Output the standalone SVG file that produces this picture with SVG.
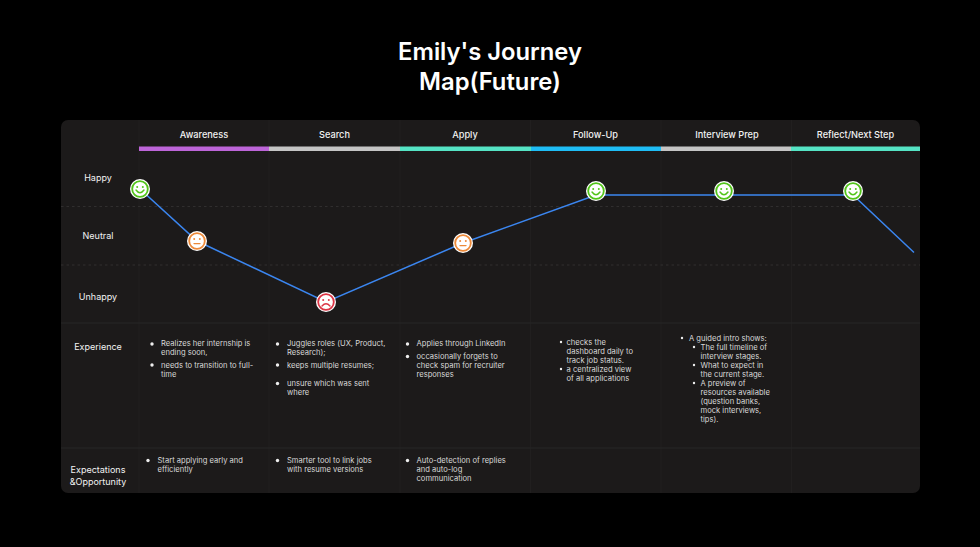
<svg xmlns="http://www.w3.org/2000/svg" width="980" height="547" viewBox="0 0 980 547">
<style>
text{font-family:Inter,"Liberation Sans",sans-serif;fill:#f2f2f2}
.title{font-size:23.8px;font-weight:600;fill:#fff;text-anchor:middle}
.head{font-size:9.2px;font-weight:500;text-anchor:middle}
.side{font-size:9px;text-anchor:middle}
.body{font-size:7.6px;fill:#d8d8d8}
.grid{stroke:#262626;stroke-width:1;fill:none}
.col{stroke:#211f1f;stroke-width:1;fill:none}
.dash{stroke:#302e2e;stroke-width:1;stroke-dasharray:2.5 3;fill:none}
.conn{stroke:#3b86f0;stroke-width:1.500;fill:none}
.disc{fill:#fff}
.ring{fill:none;stroke-width:1.800}
.mouth{fill:none;stroke-width:1.400;stroke-linecap:round}
.happy{stroke:#52c41a}.neutral{stroke:#ec8a3a}.sad{stroke:#dc3545}
.fh{fill:#52c41a}.fn{fill:#ec8a3a}.fs{fill:#dc3545}
.dot{fill:#eee}
</style>
<defs>
<g id="f-happy"><circle class="disc" r="10"/><circle class="ring happy" r="7.800"/><circle class="fh" cx="-2.8" cy="-2" r="1"/><circle class="fh" cx="2.8" cy="-2" r="1"/><path class="mouth happy" d="M-4 1Q0 6.500 4 1"/></g>
<g id="f-neutral"><circle class="disc" r="10"/><circle class="ring neutral" r="7.800"/><circle class="fn" cx="-2.8" cy="-2" r="1"/><circle class="fn" cx="2.8" cy="-2" r="1"/><path class="mouth neutral" d="M-3 2.600H3"/></g>
<g id="f-sad"><circle class="disc" r="10"/><circle class="ring sad" r="7.800"/><circle class="fs" cx="-2.8" cy="-2" r="1"/><circle class="fs" cx="2.8" cy="-2" r="1"/><path class="mouth sad" d="M-4 4Q0 -0.5 4 4"/></g>
</defs>
<rect width="980" height="547" fill="#000"/>
<g id="title"><text class="title" x="490" y="60">Emily's Journey</text><text class="title" x="490" y="90">Map(Future)</text></g>
<g id="board">
<rect x="61" y="120" width="859" height="373" rx="7" fill="#1c1a1a"/>
<path class="col" d="M139 120V493M269 120V493M400 120V493M530.500 120V493M661 120V493M791.500 120V493"/>
<path class="dash" d="M61 206.500H920M61 265H920"/>
<path class="grid" d="M61 323H920M61 448H920"/>
</g>
<g id="stages">
<g id="stage-awareness"><rect x="139" y="146.500" width="130" height="4.500" fill="#bd65d8"/><text class="head" x="204" y="138">Awareness</text></g>
<g id="stage-search"><rect x="269" y="146.500" width="131" height="4.500" fill="#c4c4c4"/><text class="head" x="334.500" y="138">Search</text></g>
<g id="stage-apply"><rect x="400" y="146.500" width="131" height="4.500" fill="#55e3c4"/><text class="head" x="465" y="138">Apply</text></g>
<g id="stage-followup"><rect x="531" y="146.500" width="130" height="4.500" fill="#1fbdf5"/><text class="head" x="595.500" y="138">Follow-Up</text></g>
<g id="stage-prep"><rect x="661" y="146.500" width="130" height="4.500" fill="#c4c4c4"/><text class="head" x="727" y="138">Interview Prep</text></g>
<g id="stage-reflect"><rect x="791" y="146.500" width="129" height="4.500" fill="#55e3c4"/><text class="head" x="855.500" y="138">Reflect/Next Step</text></g>
</g>
<g id="row-labels">
<text class="side" x="98" y="181">Happy</text>
<text class="side" x="98" y="239">Neutral</text>
<text class="side" x="98" y="300">Unhappy</text>
<text class="side" x="98" y="350">Experience</text>
<text class="side" x="98" y="473">Expectations</text>
<text class="side" x="98" y="485">&amp;Opportunity</text>
</g>
<g id="connectors">
<polyline class="conn" points="140,189 197,241 326,302 463,243 596,195 853,195 914,252.500"/>
</g>
<g id="point-1"><use href="#f-happy" x="140" y="189"/></g>
<g id="point-2"><use href="#f-neutral" x="197" y="241"/></g>
<g id="point-3"><use href="#f-sad" x="326" y="302"/></g>
<g id="point-4"><use href="#f-neutral" x="463" y="243"/></g>
<g id="point-5"><use href="#f-happy" x="596" y="191"/></g>
<g id="point-6"><use href="#f-happy" x="724" y="191"/></g>
<g id="point-7"><use href="#f-happy" x="853" y="191"/></g>
<g id="experience">
<g id="exp-awareness">
<circle class="dot" cx="152" cy="344" r="1.700"/><text class="body" x="161" y="346">Realizes her internship is</text><text class="body" x="161" y="355">ending soon,</text>
<circle class="dot" cx="152" cy="365" r="1.700"/><text class="body" x="161" y="367.500">needs to transition to full-</text><text class="body" x="161" y="376.500">time</text>
</g>
<g id="exp-search">
<circle class="dot" cx="277.500" cy="344" r="1.700"/><text class="body" x="287" y="346">Juggles roles (UX, Product,</text><text class="body" x="287" y="355">Research);</text>
<circle class="dot" cx="277.500" cy="365" r="1.700"/><text class="body" x="287" y="367.500">keeps multiple resumes;</text>
<circle class="dot" cx="277.500" cy="383.500" r="1.700"/><text class="body" x="287" y="385.500">unsure which was sent</text><text class="body" x="287" y="394.500">where</text>
</g>
<g id="exp-apply">
<circle class="dot" cx="407.500" cy="344" r="1.700"/><text class="body" x="416.500" y="346">Applies through LinkedIn</text>
<circle class="dot" cx="407.500" cy="356.500" r="1.700"/><text class="body" x="416.500" y="358.500">occasionally forgets to</text><text class="body" x="416.500" y="367.500">check spam for recruiter</text><text class="body" x="416.500" y="376.500">responses</text>
</g>
<g id="exp-followup">
<circle class="dot" cx="561" cy="342" r="1.200"/><text class="body" x="566.500" y="344.500">checks the</text><text class="body" x="566.500" y="353.500">dashboard daily to</text><text class="body" x="566.500" y="362.500">track job status.</text>
<circle class="dot" cx="561" cy="369" r="1.200"/><text class="body" x="566.500" y="371.500">a centralized view</text><text class="body" x="566.500" y="380.500">of all applications</text>
</g>
<g id="exp-prep">
<circle class="dot" cx="682" cy="338" r="1.200"/><text class="body" x="689" y="340.500">A guided intro shows:</text>
<circle class="dot" cx="694" cy="347" r="1.200"/><text class="body" x="700.500" y="349.500">The full timeline of</text><text class="body" x="700.500" y="358.500">interview stages.</text>
<circle class="dot" cx="694" cy="365" r="1.200"/><text class="body" x="700.500" y="367.500">What to expect in</text><text class="body" x="700.500" y="376.500">the current stage.</text>
<circle class="dot" cx="694" cy="383" r="1.200"/><text class="body" x="700.500" y="385.500">A preview of</text><text class="body" x="700.500" y="394.500">resources available</text><text class="body" x="700.500" y="403.500">(question banks,</text><text class="body" x="700.500" y="412.500">mock interviews,</text><text class="body" x="700.500" y="421.500">tips).</text>
</g>
</g>
<g id="expectations">
<g id="opp-awareness"><circle class="dot" cx="148" cy="460.500" r="1.700"/><text class="body" x="157.500" y="463">Start applying early and</text><text class="body" x="157.500" y="472">efficiently</text></g>
<g id="opp-search"><circle class="dot" cx="277.500" cy="460.500" r="1.700"/><text class="body" x="287" y="463">Smarter tool to link jobs</text><text class="body" x="287" y="472">with resume versions</text></g>
<g id="opp-apply"><circle class="dot" cx="407.500" cy="460.500" r="1.700"/><text class="body" x="416.500" y="463">Auto-detection of replies</text><text class="body" x="416.500" y="472">and auto-log</text><text class="body" x="416.500" y="481">communication</text></g>
</g>
</svg>
